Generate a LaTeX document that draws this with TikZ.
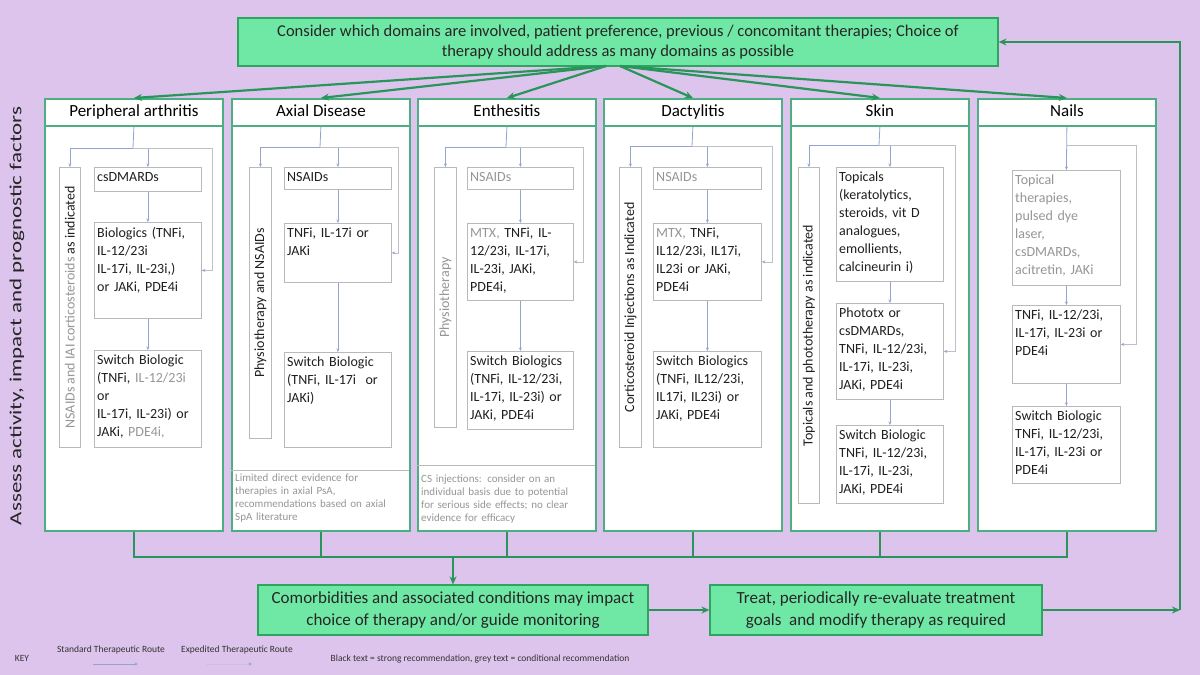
\documentclass[tikz,border=0pt]{standalone}
\usepackage{fontspec}
\setmainfont{Carlito}
\newfontfamily\widefont{Carlito}[FakeStretch=1.35]
\usetikzlibrary{arrows.meta}
\definecolor{bg}{RGB}{221,196,236}
\definecolor{gfill}{RGB}{112,232,165}
\definecolor{gborder}{RGB}{45,165,95}
\definecolor{garr}{RGB}{40,150,90}
\definecolor{colgreen}{RGB}{75,175,130}
\definecolor{greytext}{RGB}{150,150,150}
\definecolor{spinec}{RGB}{145,165,205}
\definecolor{loopc}{RGB}{190,192,200}
\definecolor{iborder}{RGB}{185,185,185}
\newcommand\gry[1]{\textcolor{greytext}{#1}}
\newcommand\ibox[6]{%
  \node[ibox, anchor=north west, minimum width=#4pt, minimum height=#5pt] (#1) at (#2,#3) {};
  \pgfmathsetmacro\itw{#4-6}%
  \node[itext, anchor=north west, text width=\itw pt] (#1t) at (#1.north west) {#6};}
\newcommand\rbox[6]{%
  \node[ibox, anchor=north west, minimum width=#4pt, minimum height=#5pt] (#1) at (#2,#3) {};
  \node[itext, rotate=90, inner sep=0pt] (#1t) at (#1.center) {#6};}
\begin{document}
\begin{tikzpicture}[x=1pt,y=-1pt,
  ibox/.style={draw=iborder, line width=0.8pt, fill=white, inner sep=0pt},
  itext/.style={font=\fontsize{14}{18}\selectfont, text=black!88, align=left, inner xsep=3pt, inner ysep=5pt},
  colbox/.style={draw=colgreen, line width=1.8pt, fill=white, inner sep=0pt},
  hdr/.style={colbox, font=\fontsize{17}{20}\selectfont, minimum width=178pt, minimum height=27pt, text height=12pt, text depth=4pt, anchor=north west},
  gbox/.style={draw=gborder, line width=1.2pt, fill=gfill, align=center, inner sep=0pt, text=black!85},
  garrow/.style={draw=garr, line width=2.2pt, -{Stealth[length=8pt,width=7pt]}},
  gline/.style={draw=garr, line width=1.8pt},
  spine/.style={draw=spinec, line width=0.8pt},
  sarrow/.style={spine, -{Stealth[length=3.5pt,width=3pt]}},
  exarrow/.style={draw=loopc, line width=0.8pt, -{Stealth[length=3.5pt,width=3pt,color=spinec]}},
  ntext/.style={font=\fontsize{11}{13}\selectfont, text=greytext, align=left, inner xsep=4pt, text width=170pt, anchor=north west},
  keyt/.style={font=\fontsize{9.5}{11}\selectfont, text=black!80, inner sep=0pt}]
\fill[bg] (0,0) rectangle (1200,675);
\useasboundingbox (0,0) rectangle (1200,675);

% top box
\node[gbox, minimum width=760pt, minimum height=48pt, font=\fontsize{16.5}{20}\selectfont] (top) at (618,42)
  {Consider which domains are involved, patient preference, previous / concomitant therapies; Choice of\\therapy should address as many domains as possible};

% left label
\node[rotate=90, font=\widefont\fontsize{17}{20}\selectfont, text=black!85] (assess) at (17,316) {Assess activity, impact and prognostic factors};

% columns
\node[colbox, anchor=north west, minimum width=178pt, minimum height=432pt] (c1) at (44,98) {};
\node[colbox, anchor=north west, minimum width=178pt, minimum height=432pt] (c2) at (231,98) {};
\node[colbox, anchor=north west, minimum width=178pt, minimum height=432pt] (c3) at (417,98) {};
\node[colbox, anchor=north west, minimum width=178pt, minimum height=432pt] (c4) at (603,98) {};
\node[colbox, anchor=north west, minimum width=178pt, minimum height=432pt] (c5) at (790,98) {};
\node[colbox, anchor=north west, minimum width=178pt, minimum height=432pt] (c6) at (977,98) {};
\node[hdr] (h1) at (44,98) {Peripheral arthritis};
\node[hdr] (h2) at (231,98) {Axial Disease};
\node[hdr] (h3) at (417,98) {Enthesitis};
\node[hdr] (h4) at (603,98) {Dactylitis};
\node[hdr] (h5) at (790,98) {Skin};
\node[hdr] (h6) at (977,98) {Nails};

% top arrows
\coordinate (tsL) at (606,66);
\coordinate (tsR) at (620,66);
\foreach \hh in {h1,h2,h3} \draw[garrow] (tsL) -- (\hh.north);
\foreach \hh in {h4,h5,h6} \draw[garrow] (tsR) -- (\hh.north);

% Peripheral arthritis
\rbox{p0}{59}{167}{21}{280}{\gry{NSAIDs and IAI corticosteroids} as indicated}
\ibox{p1}{94}{167}{107}{24}{csDMARDs}
\ibox{p2}{94}{222}{107}{96}{Biologics (TNFi,\\IL-12/23i\\IL-17i, IL-23i,)\\or JAKi, PDE4i}
\ibox{p3}{94}{350}{107}{97}{Switch Biologic\\(TNFi, \gry{IL-12/23i}\\or\\IL-17i, IL-23i) or\\JAKi, \gry{PDE4i,}}
\coordinate (p1d) at (133,148); \coordinate (p1r) at (212,148);
\draw[spine] (h1.south) -- (p1d);
\draw[sarrow] (p1d) -| (p0.north);
\draw[sarrow] (p1d) -| (p1.north);
\draw[exarrow] (p1d) -- (p1r) |- (p2.east);
\draw[sarrow] (p1.south) -- (p2.north);
\draw[sarrow] (p2.south) -- (p3.north);

% Axial disease
\rbox{a0}{249}{167}{22}{271}{Physiotherapy and NSAIDs}
\ibox{a1}{284}{167}{107}{22}{NSAIDs}
\ibox{a2}{284}{223}{107}{59}{TNFi, IL-17i or\\JAKi}
\ibox{a3}{284}{352}{107}{95}{Switch Biologic\\(TNFi, IL-17i\ \ or\\JAKi)}
\coordinate (a1d) at (320,147); \coordinate (a1r) at (398,147);
\draw[spine] (h2.south) -- (a1d);
\draw[sarrow] (a1d) -| (a0.north);
\draw[sarrow] (a1d) -| (a1.north);
\draw[exarrow] (a1d) -- (a1r) |- (a2.east);
\draw[sarrow] (a1.south) -- (a2.north);
\draw[sarrow] (a2.south) -- (a3.north);
\node[ntext, inner ysep=4pt] (an) at (231,470) {Limited direct evidence for\\therapies in axial PsA,\\recommendations based on axial\\SpA literature};
\draw[draw=iborder, line width=0.8pt] (an.north west) -- (an.north east);

% Enthesitis
\rbox{e0}{434}{167}{22}{260}{\gry{Physiotherapy}}
\ibox{e1}{467}{167}{106}{22}{\gry{NSAIDs}}
\ibox{e2}{467}{223}{106}{77}{\gry{MTX,} TNFi, IL-\\12/23i, IL-17i,\\IL-23i, JAKi,\\PDE4i,}
\ibox{e3}{467}{351}{106}{78}{Switch Biologics\\(TNFi, IL-12/23i,\\IL-17i, IL-23i) or\\JAKi, PDE4i}
\coordinate (e1d) at (506,147); \coordinate (e1r) at (583,147);
\draw[spine] (h3.south) -- (e1d);
\draw[sarrow] (e1d) -| (e0.north);
\draw[sarrow] (e1d) -| (e1.north);
\draw[exarrow] (e1d) -- (e1r) |- (e2.east);
\draw[sarrow] (e1.south) -- (e2.north);
\draw[sarrow] (e2.south) -- (e3.north);
\node[ntext, inner ysep=10pt] (en) at (417,465) {CS injections: consider on an\\individual basis due to potential\\for serious side effects; no clear\\evidence for efficacy};
\draw[draw=iborder, line width=0.8pt] (en.north west) -- (en.north east);

% Dactylitis
\rbox{d0}{619}{167}{22}{280}{Corticosteroid Injections as Indicated}
\ibox{d1}{653}{167}{108}{22}{\gry{NSAIDs}}
\ibox{d2}{653}{223}{108}{77}{\gry{MTX,} TNFi,\\IL12/23i, IL17i,\\IL23i or JAKi,\\PDE4i}
\ibox{d3}{653}{351}{108}{96}{Switch Biologics\\(TNFi, IL12/23i,\\IL17i, IL23i) or\\JAKi, PDE4i}
\coordinate (d1d) at (692,146); \coordinate (d1r) at (772,146);
\draw[spine] (h4.south) -- (d1d);
\draw[sarrow] (d1d) -| (d0.north);
\draw[sarrow] (d1d) -| (d1.north);
\draw[exarrow] (d1d) -- (d1r) |- (d2.east);
\draw[sarrow] (d1.south) -- (d2.north);
\draw[sarrow] (d2.south) -- (d3.north);

% Skin
\rbox{s0}{798}{167}{21}{336}{Topicals and phototherapy as indicated}
\ibox{s1}{836}{167}{107}{114}{Topicals\\(keratolytics,\\steroids, vit D\\analogues,\\emollients,\\calcineurin i)}
\ibox{s2}{836}{303}{107}{96}{Phototx or\\csDMARDs,\\TNFi, IL-12/23i,\\IL-17i, IL-23i,\\JAKi, PDE4i}
\ibox{s3}{836}{425}{107}{78}{Switch Biologic\\TNFi, IL-12/23i,\\IL-17i, IL-23i,\\JAKi, PDE4i}
\coordinate (s1d) at (879,145); \coordinate (s1r) at (955,145);
\draw[spine] (h5.south) -- (s1d);
\draw[sarrow] (s1d) -| (s0.north);
\draw[sarrow] (s1d) -| (s1.north);
\draw[exarrow] (s1d) -- (s1r) |- (s2.east);
\draw[sarrow] (s1.south) -- (s2.north);
\draw[sarrow] (s2.south) -- (s3.north);

% Nails
\ibox{n1}{1012}{170}{108}{115}{\color{greytext}Topical\\therapies,\\pulsed dye\\laser,\\csDMARDs,\\acitretin, JAKi}
\ibox{n2}{1012}{305}{108}{78}{TNFi, IL-12/23i,\\IL-17i, IL-23i or\\PDE4i}
\ibox{n3}{1012}{406}{108}{77}{Switch Biologic\\TNFi, IL-12/23i,\\IL-17i, IL-23i or\\PDE4i}
\coordinate (n1d) at (1066,145); \coordinate (n1r) at (1136,145);
\draw[sarrow] (h6.south) -- (n1.north);
\draw[exarrow] (n1d) -- (n1r) |- (n2.east);
\draw[sarrow] (n1.south) -- (n2.north);
\draw[sarrow] (n2.south) -- (n3.north);

% bottom boxes
\node[gbox, minimum width=390pt, minimum height=50pt, font=\fontsize{17}{22}\selectfont] (como) at (453,610)
  {Comorbidities and associated conditions may impact\\choice of therapy and/or guide monitoring};
\node[gbox, minimum width=332pt, minimum height=50pt, font=\fontsize{17}{22}\selectfont] (treat) at (876,610)
  {Treat, periodically re-evaluate treatment\\goals\ \ and modify therapy as required};

% bus
\coordinate (bus) at (453,557);
\draw[gline] (c1.south) -- (c1.south |- bus) -- (c6.south |- bus) -- (c6.south);
\foreach \cc in {c2,c3,c4,c5} \draw[gline] (\cc.south) -- (\cc.south |- bus);
\draw[garrow] (bus) -- (como.north);
\draw[garrow] (como.east) -- (treat.west);
\coordinate (fb) at (1180,610);
\draw[garrow] (treat.east) -- (fb);
\draw[garrow] (fb) |- (top.east);

% key
\node[keyt] (key) at (22,658) {KEY};
\node[keyt] (kstd) at (111,650) {Standard Therapeutic Route};
\coordinate (ks1) at (93,664); \coordinate (ks2) at (138,664);
\draw[draw=spinec, line width=1pt, -{Stealth[length=3.5pt,width=3pt]}] (ks1) -- (ks2);
\node[keyt] (kexp) at (237,650) {Expedited Therapeutic Route};
\coordinate (ke1) at (207,664); \coordinate (ke2) at (252,664);
\draw[draw=loopc, line width=1pt, densely dotted, -{Stealth[length=3.5pt,width=3pt,color=spinec]}] (ke1) -- (ke2);
\node[keyt] (kbw) at (480,659) {Black text = strong recommendation, grey text = conditional recommendation};
\end{tikzpicture}
\end{document}
